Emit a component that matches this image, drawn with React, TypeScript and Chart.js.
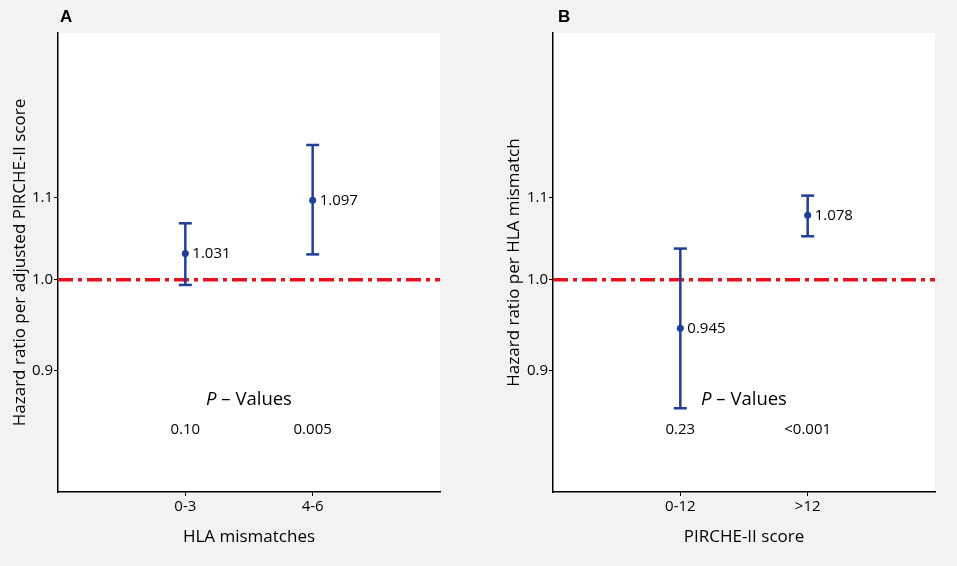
import { useEffect, useRef } from 'react';
import { Chart, registerables } from 'chart.js';

Chart.register(...registerables);

const BLUE = '#1f3f98';
const RED = '#e8101a';
const FONT = "'Open Sans', sans-serif";

// panel A: hazard ratio per adjusted PIRCHE-II score, by HLA mismatches
const hlaGroups = ['0-3', '4-6'];
const hlaHazard = [1.031, 1.097];
const hlaLower = [0.994, 1.03];
const hlaUpper = [1.068, 1.17];
const hlaPValues = ['0.10', '0.005'];

// panel B: hazard ratio per HLA mismatch, by PIRCHE-II score
const pircheGroups = ['0-12', '>12'];
const pircheHazard = [0.945, 1.078];
const pircheLower = [0.861, 1.052];
const pircheUpper = [1.037, 1.103];
const pirchePValues = ['0.23', '<0.001'];

const yTicks = [0.9, 1.0, 1.1];
const yMin = 0.781;
const yMax = 1.333;
const referenceHR = 1.0;
const pTitleY = 0.87;
const pValueY = 0.84;

type PanelProps = {
  letter: string;
  groups: string[];
  hazard: number[];
  lower: number[];
  upper: number[];
  pValues: string[];
  xTitle: string;
  yTitle: string;
  left: number;
  width: number;
  axisWidth: number;
  padRight: number;
  yTitlePad: number;
  letterOffset: number;
};

const decorPlugin = {
  id: 'decor',
  beforeDraw(chart: any) {
    const { ctx, chartArea } = chart;
    ctx.save();
    ctx.fillStyle = '#ffffff';
    ctx.fillRect(chartArea.left, chartArea.top, chartArea.right - chartArea.left, chartArea.bottom - chartArea.top);
    ctx.restore();
  },
  afterDatasetsDraw(chart: any, _args: any, opts: any) {
    const { ctx, chartArea } = chart;
    const xs = chart.scales.x;
    const ys = chart.scales.y;
    ctx.save();
    ctx.fillStyle = '#000000';
    ctx.textBaseline = 'middle';

    // value labels next to each point
    ctx.font = `15px ${FONT}`;
    ctx.textAlign = 'left';
    opts.hazard.forEach((v: number, i: number) => {
      ctx.fillText(v.toFixed(3), xs.getPixelForValue(i + 1) + 7, ys.getPixelForValue(v));
    });

    // P – Values heading, italic P
    const px = xs.getPixelForValue(1.5);
    const py = ys.getPixelForValue(pTitleY);
    ctx.font = `italic 18.5px ${FONT}`;
    const wP = ctx.measureText('P').width;
    ctx.font = `18.5px ${FONT}`;
    const rest = ' \u2013 Values';
    const wRest = ctx.measureText(rest).width;
    const start = px - (wP + wRest) / 2;
    ctx.font = `italic 18.5px ${FONT}`;
    ctx.fillText('P', start, py);
    ctx.font = `18.5px ${FONT}`;
    ctx.fillText(rest, start + wP, py);

    ctx.font = `15px ${FONT}`;
    ctx.textAlign = 'center';
    opts.pValues.forEach((p: string, i: number) => {
      ctx.fillText(p, xs.getPixelForValue(i + 1), ys.getPixelForValue(pValueY));
    });

    // panel letter
    ctx.font = `bold 17px 'Liberation Sans', Arial, sans-serif`;
    ctx.textAlign = 'left';
    ctx.fillText(opts.letter, chartArea.left + opts.letterOffset, 17.5);
    ctx.restore();
  },
};

const Panel = (props: PanelProps) => {
  const canvasRef = useRef<HTMLCanvasElement>(null);

  useEffect(() => {
    if (!canvasRef.current) return;
    const { groups, hazard, lower, upper } = props;

    const errorBars = groups.map((_, i) => ({
      data: [
        { x: i + 1, y: lower[i] },
        { x: i + 1, y: upper[i] },
      ],
      borderColor: BLUE,
      borderWidth: 2.5,
      pointStyle: 'line' as const,
      pointRadius: 6.5,
      pointBorderWidth: 2.5,
      pointBorderColor: BLUE,
      order: 5,
    }));

    const chart = new Chart(canvasRef.current, {
      type: 'line',
      data: {
        datasets: [
          {
            data: hazard.map((v, i) => ({ x: i + 1, y: v })),
            showLine: false,
            pointRadius: 3.5,
            pointBackgroundColor: BLUE,
            pointBorderColor: BLUE,
            pointBorderWidth: 0,
            order: 0,
          },
          ...errorBars,
          {
            data: [
              { x: 0, y: referenceHR },
              { x: 3, y: referenceHR },
            ],
            borderColor: RED,
            borderWidth: 3.5,
            borderDash: [15, 5, 4, 5],
            pointRadius: 0,
            order: 10,
          },
        ],
      },
      options: {
        animation: false,
        responsive: false,
        events: [],
        layout: { padding: { left: 0, top: 33, right: props.padRight, bottom: 0 } },
        plugins: {
          legend: { display: false },
          tooltip: { enabled: false },
          decor: { letter: props.letter, hazard, pValues: props.pValues, letterOffset: props.letterOffset },
        } as any,
        scales: {
          x: {
            type: 'linear',
            min: 0,
            max: 3,
            bounds: 'data',
            afterBuildTicks: (scale: any) => {
              scale.ticks = groups.map((_, i) => ({ value: i + 1 }));
            },
            afterFit: (scale: any) => {
              scale.height = 74;
            },
            ticks: {
              callback: (v: any) => groups[Number(v) - 1],
              color: '#000000',
              font: { family: FONT, size: 15 },
              padding: 1.5,
              maxRotation: 0,
              autoSkip: false,
            },
            grid: { drawOnChartArea: false, drawTicks: true, tickLength: 4, color: '#000000', lineWidth: 1 },
            border: { display: true, color: '#000000', width: 1.5 },
            title: {
              display: true,
              text: props.xTitle,
              color: '#000000',
              font: { family: FONT, size: 17 },
              padding: { top: 0, bottom: 18.8 },
            },
          },
          y: {
            type: 'logarithmic',
            min: yMin,
            max: yMax,
            bounds: 'data',
            afterBuildTicks: (scale: any) => {
              scale.ticks = yTicks.map((v) => ({ value: v }));
            },
            afterFit: (scale: any) => {
              scale.width = props.axisWidth;
            },
            ticks: {
              callback: (v: any) => Number(v).toFixed(1),
              color: '#000000',
              font: { family: FONT, size: 15 },
              padding: 1,
              autoSkip: false,
            },
            grid: { drawOnChartArea: false, drawTicks: true, tickLength: 4, color: '#000000', lineWidth: 1 },
            border: { display: true, color: '#000000', width: 1.5 },
            title: {
              display: true,
              text: props.yTitle,
              color: '#000000',
              font: { family: FONT, size: 17 },
              padding: { top: props.yTitlePad, bottom: 0 },
            },
          },
        },
      },
      plugins: [decorPlugin],
    } as any);

    return () => {
      chart.destroy();
    };
  }, [props]);

  return (
    <canvas
      ref={canvasRef}
      width={props.width}
      height={566}
      style={{ position: 'absolute', left: props.left, top: 0, width: props.width, height: 566 }}
    />
  );
};

const panelA: PanelProps = {
  letter: 'A',
  groups: hlaGroups,
  hazard: hlaHazard,
  lower: hlaLower,
  upper: hlaUpper,
  pValues: hlaPValues,
  xTitle: 'HLA mismatches',
  yTitle: 'Hazard ratio per adjusted PIRCHE-II score',
  left: 0,
  width: 478,
  axisWidth: 58,
  padRight: 38,
  yTitlePad: 9.8,
  letterOffset: 2,
};

const panelB: PanelProps = {
  letter: 'B',
  groups: pircheGroups,
  hazard: pircheHazard,
  lower: pircheLower,
  upper: pircheUpper,
  pValues: pirchePValues,
  xTitle: 'PIRCHE-II score',
  yTitle: 'Hazard ratio per HLA mismatch',
  left: 478,
  width: 479,
  axisWidth: 75,
  padRight: 22,
  yTitlePad: 25.8,
  letterOffset: 5,
};

const App = () => {
  return (
    <div style={{ position: 'fixed', left: 0, top: 0, width: 957, height: 566, background: '#f2f2f2', overflow: 'hidden' }}>
      <Panel {...panelA} />
      <Panel {...panelB} />
    </div>
  );
};

export default App;
